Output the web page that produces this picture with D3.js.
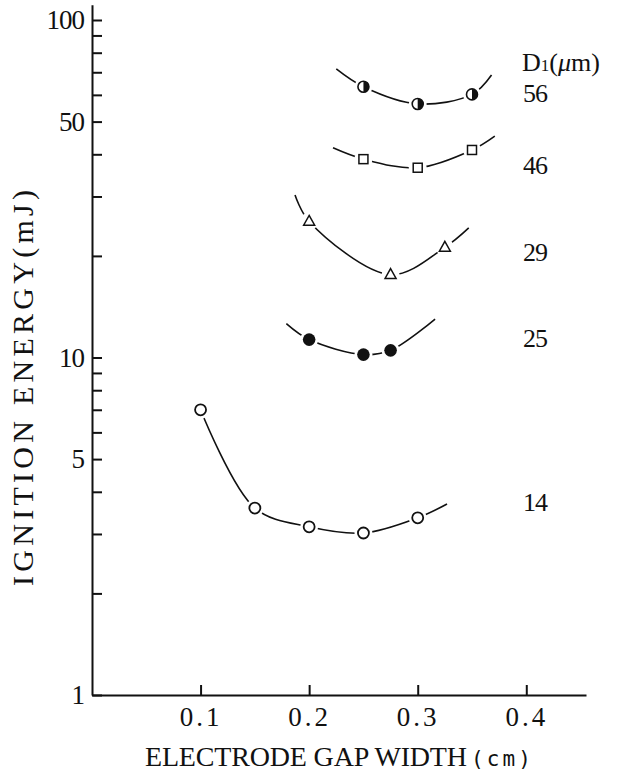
<!DOCTYPE html>
<html><head><meta charset="utf-8">
<script src="https://cdn.jsdelivr.net/npm/d3@7"></script>
<style>
html,body{margin:0;padding:0;background:#fff;}
svg text{font-family:"Liberation Serif","Times New Roman",serif;fill:#111;}
</style></head>
<body><svg id="c" width="620" height="774"></svg>
<script>
// ---- data ----
const diameters = ["56", "46", "29", "25", "14"];
const markerKinds = ["half", "square", "triangle", "filled", "open"];
const gap56 = [0.25, 0.30, 0.35];
const energy56 = [63.4, 56.4, 60.2];
const gap46 = [0.25, 0.30, 0.35];
const energy46 = [38.7, 36.5, 41.2];
const gap29 = [0.20, 0.275, 0.325];
const energy29 = [25.3, 17.6, 21.2];
const gap25 = [0.20, 0.25, 0.275];
const energy25 = [11.3, 10.2, 10.5];
const gap14 = [0.10, 0.15, 0.20, 0.25, 0.30];
const energy14 = [7.0, 3.58, 3.15, 3.02, 3.35];
// ends of the hand-fitted curves [gap, energy]
const curveStart = [[0.225, 71.6], [0.222, 41.8], [0.187, 30.3], [0.179, 12.6], [0.10, 7.0]];
const curveEnd = [[0.368, 68.7], [0.371, 45.3], [0.347, 24.2], [0.316, 13.0], [0.327, 3.68]];
// energy level at which each diameter label sits
const labelEnergy = [60.8, 37.2, 20.5, 11.4, 3.73];
const gapTicks = [0.1, 0.2, 0.3, 0.4];
const gapTickLabels = ["0.1", "0.2", "0.3", "0.4"];
const energyTicks = [1, 2, 3, 4, 5, 6, 7, 8, 9, 10, 20, 30, 40, 50, 60, 70, 80, 90, 100];
const energyTickLabels = [1, 5, 10, 50, 100];

const gaps = [gap56, gap46, gap29, gap25, gap14];
const energies = [energy56, energy46, energy29, energy25, energy14];

// ---- drawing ----
const svg = d3.select("#c");
const x = d3.scaleLinear().domain([0, 0.455]).range([92, 586]);
const y = d3.scaleLog().domain([1, 111]).range([695, 4.7]);

const xAxis = svg.append("g").attr("transform", "translate(0,695)")
  .call(d3.axisBottom(x).tickValues(gapTicks)
    .tickFormat((d, i) => gapTickLabels[i])
    .tickSizeInner(-10).tickSizeOuter(0).tickPadding(12));
const yAxis = svg.append("g").attr("transform", "translate(92,0)")
  .call(d3.axisLeft(y).tickValues(energyTicks)
    .tickFormat(d => energyTickLabels.includes(d) ? String(d) : "")
    .tickSizeInner(-10).tickSizeOuter(0).tickPadding(8));
[xAxis, yAxis].forEach(g => {
  g.select(".domain").attr("stroke", "#111").attr("stroke-width", 2);
  g.selectAll(".tick line").attr("stroke", "#111").attr("stroke-width", 2);
  g.selectAll(".tick text").attr("font-family", "Liberation Serif").attr("font-size", 27).attr("fill", "#111");
});
yAxis.selectAll(".tick text").attr("letter-spacing", "-1px");
xAxis.selectAll(".tick text").attr("letter-spacing", "3px");

const line = d3.line().x(d => x(d[0])).y(d => y(d[1])).curve(d3.curveCatmullRom.alpha(0.5));

diameters.forEach((lab, i) => {
  const pts = gaps[i].map((g, j) => [g, energies[i][j]]);
  const cpts = [curveStart[i]].concat(pts.filter(p => p[0] > curveStart[i][0] + 1e-6), [curveEnd[i]]);
  svg.append("path").attr("d", line(cpts)).attr("fill", "none")
    .attr("stroke", "#111").attr("stroke-width", 1.6);
  const kind = markerKinds[i];
  const g = svg.append("g");
  pts.forEach(p => {
    const cx = x(p[0]), cy = y(p[1]);
    g.append("circle").attr("cx", cx).attr("cy", cy).attr("r", 9).attr("fill", "#fff");
    if (kind === "open") {
      g.append("circle").attr("cx", cx).attr("cy", cy).attr("r", 5.5)
        .attr("fill", "#fff").attr("stroke", "#111").attr("stroke-width", 1.8);
    } else if (kind === "filled") {
      g.append("circle").attr("cx", cx).attr("cy", cy).attr("r", 6.3).attr("fill", "#111");
    } else if (kind === "half") {
      g.append("circle").attr("cx", cx).attr("cy", cy).attr("r", 5.5)
        .attr("fill", "#fff").attr("stroke", "#111").attr("stroke-width", 1.6);
      g.append("path").attr("d", `M${cx},${cy - 5.5} A5.5,5.5 0 0 1 ${cx},${cy + 5.5} Z`)
        .attr("fill", "#111");
    } else if (kind === "square") {
      g.append("rect").attr("x", cx - 4.5).attr("y", cy - 4.5).attr("width", 9).attr("height", 9)
        .attr("fill", "#fff").attr("stroke", "#111").attr("stroke-width", 1.5);
    } else if (kind === "triangle") {
      g.append("path").attr("d", `M${cx},${cy - 6} L${cx + 5.5},${cy + 3.8} L${cx - 5.5},${cy + 3.8} Z`)
        .attr("fill", "#fff").attr("stroke", "#111").attr("stroke-width", 1.5);
    }
  });
  svg.append("text").attr("x", 523).attr("y", y(labelEnergy[i])).attr("dy", "0.35em")
    .attr("font-size", 26).attr("letter-spacing", "-1px").text(lab);
});

// legend header D1(μm)
const hd = svg.append("text").attr("x", 522).attr("y", 71).attr("font-size", 26);
hd.append("tspan").text("D");
hd.append("tspan").attr("font-size", 17).text("1");
hd.append("tspan").text("(");
hd.append("tspan").attr("font-style", "italic").text("μ");
hd.append("tspan").text("m)");

// axis titles
svg.append("text").attr("x", 145).attr("y", 766).attr("font-size", 28)
  .attr("textLength", 322).attr("lengthAdjust", "spacing")
  .text("ELECTRODE GAP WIDTH");
svg.append("text").attr("x", 471).attr("y", 766).attr("font-size", 21)
  .attr("textLength", 60).attr("lengthAdjust", "spacing")
  .style("font-family", "'DejaVu Sans Mono', monospace").text("(cm)");

svg.append("text").attr("transform", "translate(33,388) rotate(-90)")
  .attr("text-anchor", "middle").attr("font-size", 30)
  .attr("textLength", 396).attr("lengthAdjust", "spacing")
  .text("IGNITION ENERGY(mJ)");
</script></body></html>
